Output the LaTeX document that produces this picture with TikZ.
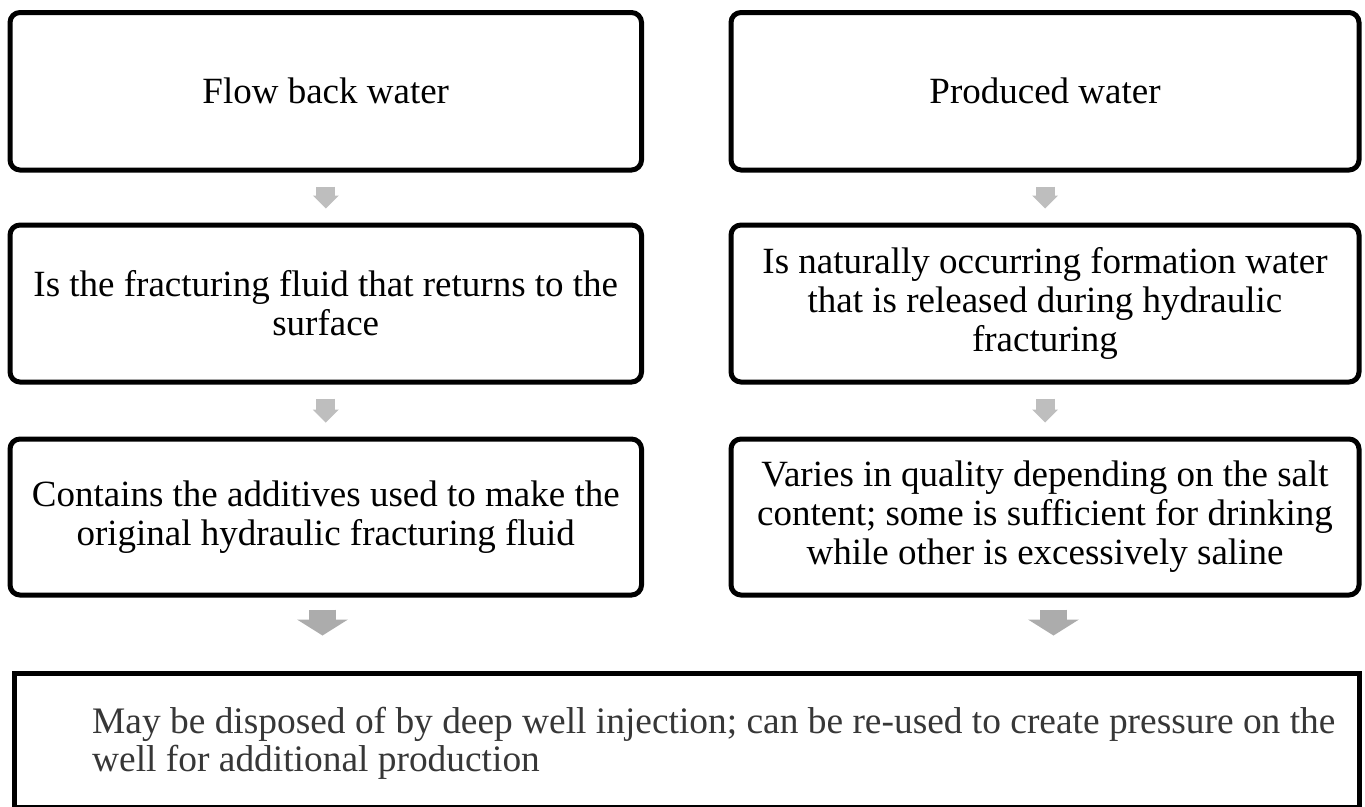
\documentclass[tikz,border=0pt]{standalone}
\usepackage{fontspec}
\setmainfont{Liberation Serif}
\usetikzlibrary{arrows.meta,calc}
\definecolor{arrA}{RGB}{190,190,190}
\definecolor{arrB}{RGB}{172,172,172}
\definecolor{txtB}{RGB}{55,55,55}
\begin{document}
\begin{tikzpicture}[x=1pt,y=-1pt,
  box/.style={draw=black, line width=5pt, rounded corners=10pt, inner sep=0pt,
    align=center, font=\fontsize{37}{39}\selectfont},
  leftbox/.style={box, minimum width=631.5pt},
  rightbox/.style={box, minimum width=628pt},
  smallarr/.style={arrA, line width=19pt,
    -{Triangle[width=26pt,length=13pt,line width=0pt]},
    shorten <=14pt, shorten >=14pt},
  bigarr/.style={arrB, line width=27pt,
    -{Triangle[width=51pt,length=16pt,line width=0pt]},
    shorten <=12pt, shorten >=35pt},
  finalbox/.style={draw=black, line width=5pt, inner sep=0pt,
    minimum width=1345pt, minimum height=134pt},
  finaltxt/.style={anchor=west, inner sep=0pt, align=left, text=txtB,
    font=\fontsize{37.4}{38}\selectfont}
]
\useasboundingbox (0,0) rectangle (1365,806);

\node[leftbox, minimum height=157.5pt] (l1) at (325.75,91.25) {Flow back water};
\node[leftbox, minimum height=157pt] (l2) at (325.75,303.5)
  {Is the fracturing fluid that returns to the\\surface};
\node[leftbox, minimum height=156pt] (l3) at (325.75,517)
  {Contains the additives used to make the\\original hydraulic fracturing fluid};

\node[rightbox, minimum height=157.5pt] (r1) at (1045,91.25) {Produced water};
\node[rightbox, minimum height=157pt] (r2) at (1045,303.5)
  {Is naturally occurring formation water\\that is released during hydraulic\\fracturing};
\node[rightbox, minimum height=156pt] (r3) at (1045,517)
  {Varies in quality depending on the salt\\content; some is sufficient for drinking\\while other is excessively saline};

\node[finalbox] (fin) at (687,740) {};
\node[finaltxt] (fintxt) at (92,743)
  {May be disposed of by deep well injection; can be re-used to create pressure on the\\well for additional production};

\draw[smallarr] (l1.south) -- (l2.north);
\draw[smallarr] (l2.south) -- (l3.north);
\draw[smallarr] (r1.south) -- (r2.north);
\draw[smallarr] (r2.south) -- (r3.north);

\draw[bigarr] ([xshift=-3.25pt]l3.south) -- ([xshift=-3.25pt]l3.south |- fin.north);
\draw[bigarr] ([xshift=8.5pt]r3.south) -- ([xshift=8.5pt]r3.south |- fin.north);
\end{tikzpicture}
\end{document}
